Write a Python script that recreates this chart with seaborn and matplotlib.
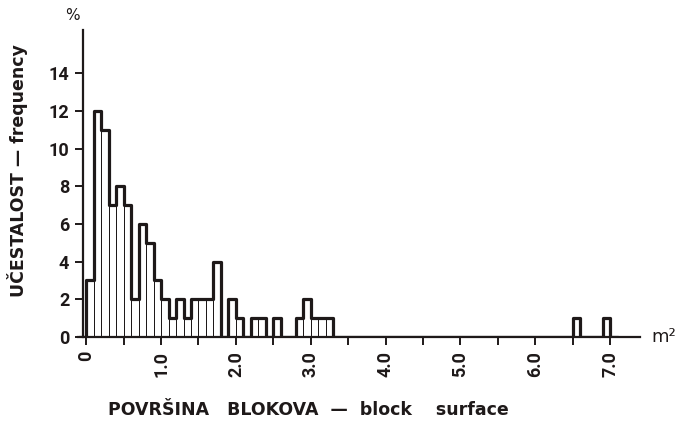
import numpy as np
import pandas as pd
import matplotlib
matplotlib.use("Agg")
import matplotlib.pyplot as plt
import seaborn as sns

# Block surface classes (bin centres, m^2) with non-zero frequency, and frequency in %
surface_class = [0.05, 0.15, 0.25, 0.35, 0.45, 0.55, 0.65, 0.75, 0.85, 0.95,
                 1.05, 1.15, 1.25, 1.35, 1.45, 1.55, 1.65, 1.75, 1.95, 2.05,
                 2.25, 2.35, 2.55, 2.85, 2.95, 3.05, 3.15, 3.25, 6.55, 6.95]
frequency = [3, 12, 11, 7, 8, 7, 2, 6, 5, 3,
             2, 1, 2, 1, 2, 2, 2, 4, 2, 1,
             1, 1, 1, 1, 2, 1, 1, 1, 1, 1]
bin_edges = [round(v, 2) for v in np.arange(-0.1, 7.15, 0.1)]

y_ticks = [0, 2, 4, 6, 8, 10, 12, 14]
x_ticks = [0, 0.5, 1.0, 1.5, 2.0, 2.5, 3.0, 3.5, 4.0, 4.5, 5.0, 5.5, 6.0, 6.5, 7.0]
x_ticklabels = ["0", "", "1.0", "", "2.0", "", "3.0", "", "4.0", "", "5.0", "", "6.0", "", "7.0"]

df = pd.DataFrame({"surface": surface_class, "freq": frequency})

sns.set_style("white")
plt.rcParams["font.family"] = ["Roboto", "DejaVu Sans"]

ink = "#1e1919"
fig = plt.figure(figsize=(6.83, 4.21), dpi=100)
ax = fig.add_axes([78 / 683, 1 - 337 / 421, 562 / 683, 307 / 421])

# thin vertical-line bars
sns.histplot(data=df, x="surface", weights="freq", bins=bin_edges, element="bars",
             fill=False, color=ink, linewidth=0.7, ax=ax)
# thick outline
sns.histplot(data=df, x="surface", weights="freq", bins=bin_edges, element="step",
             fill=False, color=ink, linewidth=2.3, ax=ax)

ax.set_xlim(-0.11, 7.4)
ax.set_ylim(0, 16.3)
ax.set_xlabel("")
ax.set_ylabel("")

for s in ["top", "right"]:
    ax.spines[s].set_visible(False)
ax.spines["left"].set_position(("data", -0.04))
for s in ["left", "bottom"]:
    ax.spines[s].set_color(ink)
    ax.spines[s].set_linewidth(1.6)

ax.set_yticks(y_ticks)
ax.set_yticklabels([str(v) for v in y_ticks], fontsize=13, fontweight="bold", color=ink)
ax.set_xticks(x_ticks)
ax.set_xticklabels(x_ticklabels, rotation=90, fontsize=13, fontweight="bold", color=ink)
ax.tick_params(axis="both", which="major", direction="out", length=6, width=1.4,
               color=ink, pad=4, left=True, bottom=True)

lab_font = ["DejaVu Sans"]
fig.text(72 / 683, 1 - 16 / 421, "%", fontsize=11, color=ink, ha="center", va="center",
         family=lab_font)
fig.text(664 / 683, 1 - 337 / 421, "m²", fontsize=13, color=ink, ha="center", va="center",
         family=lab_font)
fig.text(308 / 683, 1 - 410 / 421, "POVRŠINA   BLOKOVA  —  block    surface",
         fontsize=12.5, fontweight="bold", color=ink, ha="center", va="center",
         family=lab_font)
fig.text(18 / 683, 1 - 171 / 421, "UČESTALOST — frequency", rotation=90,
         fontsize=12.5, fontweight="bold", color=ink, ha="center", va="center",
         family=lab_font)

fig.savefig("out.png", dpi=100, facecolor="white")
